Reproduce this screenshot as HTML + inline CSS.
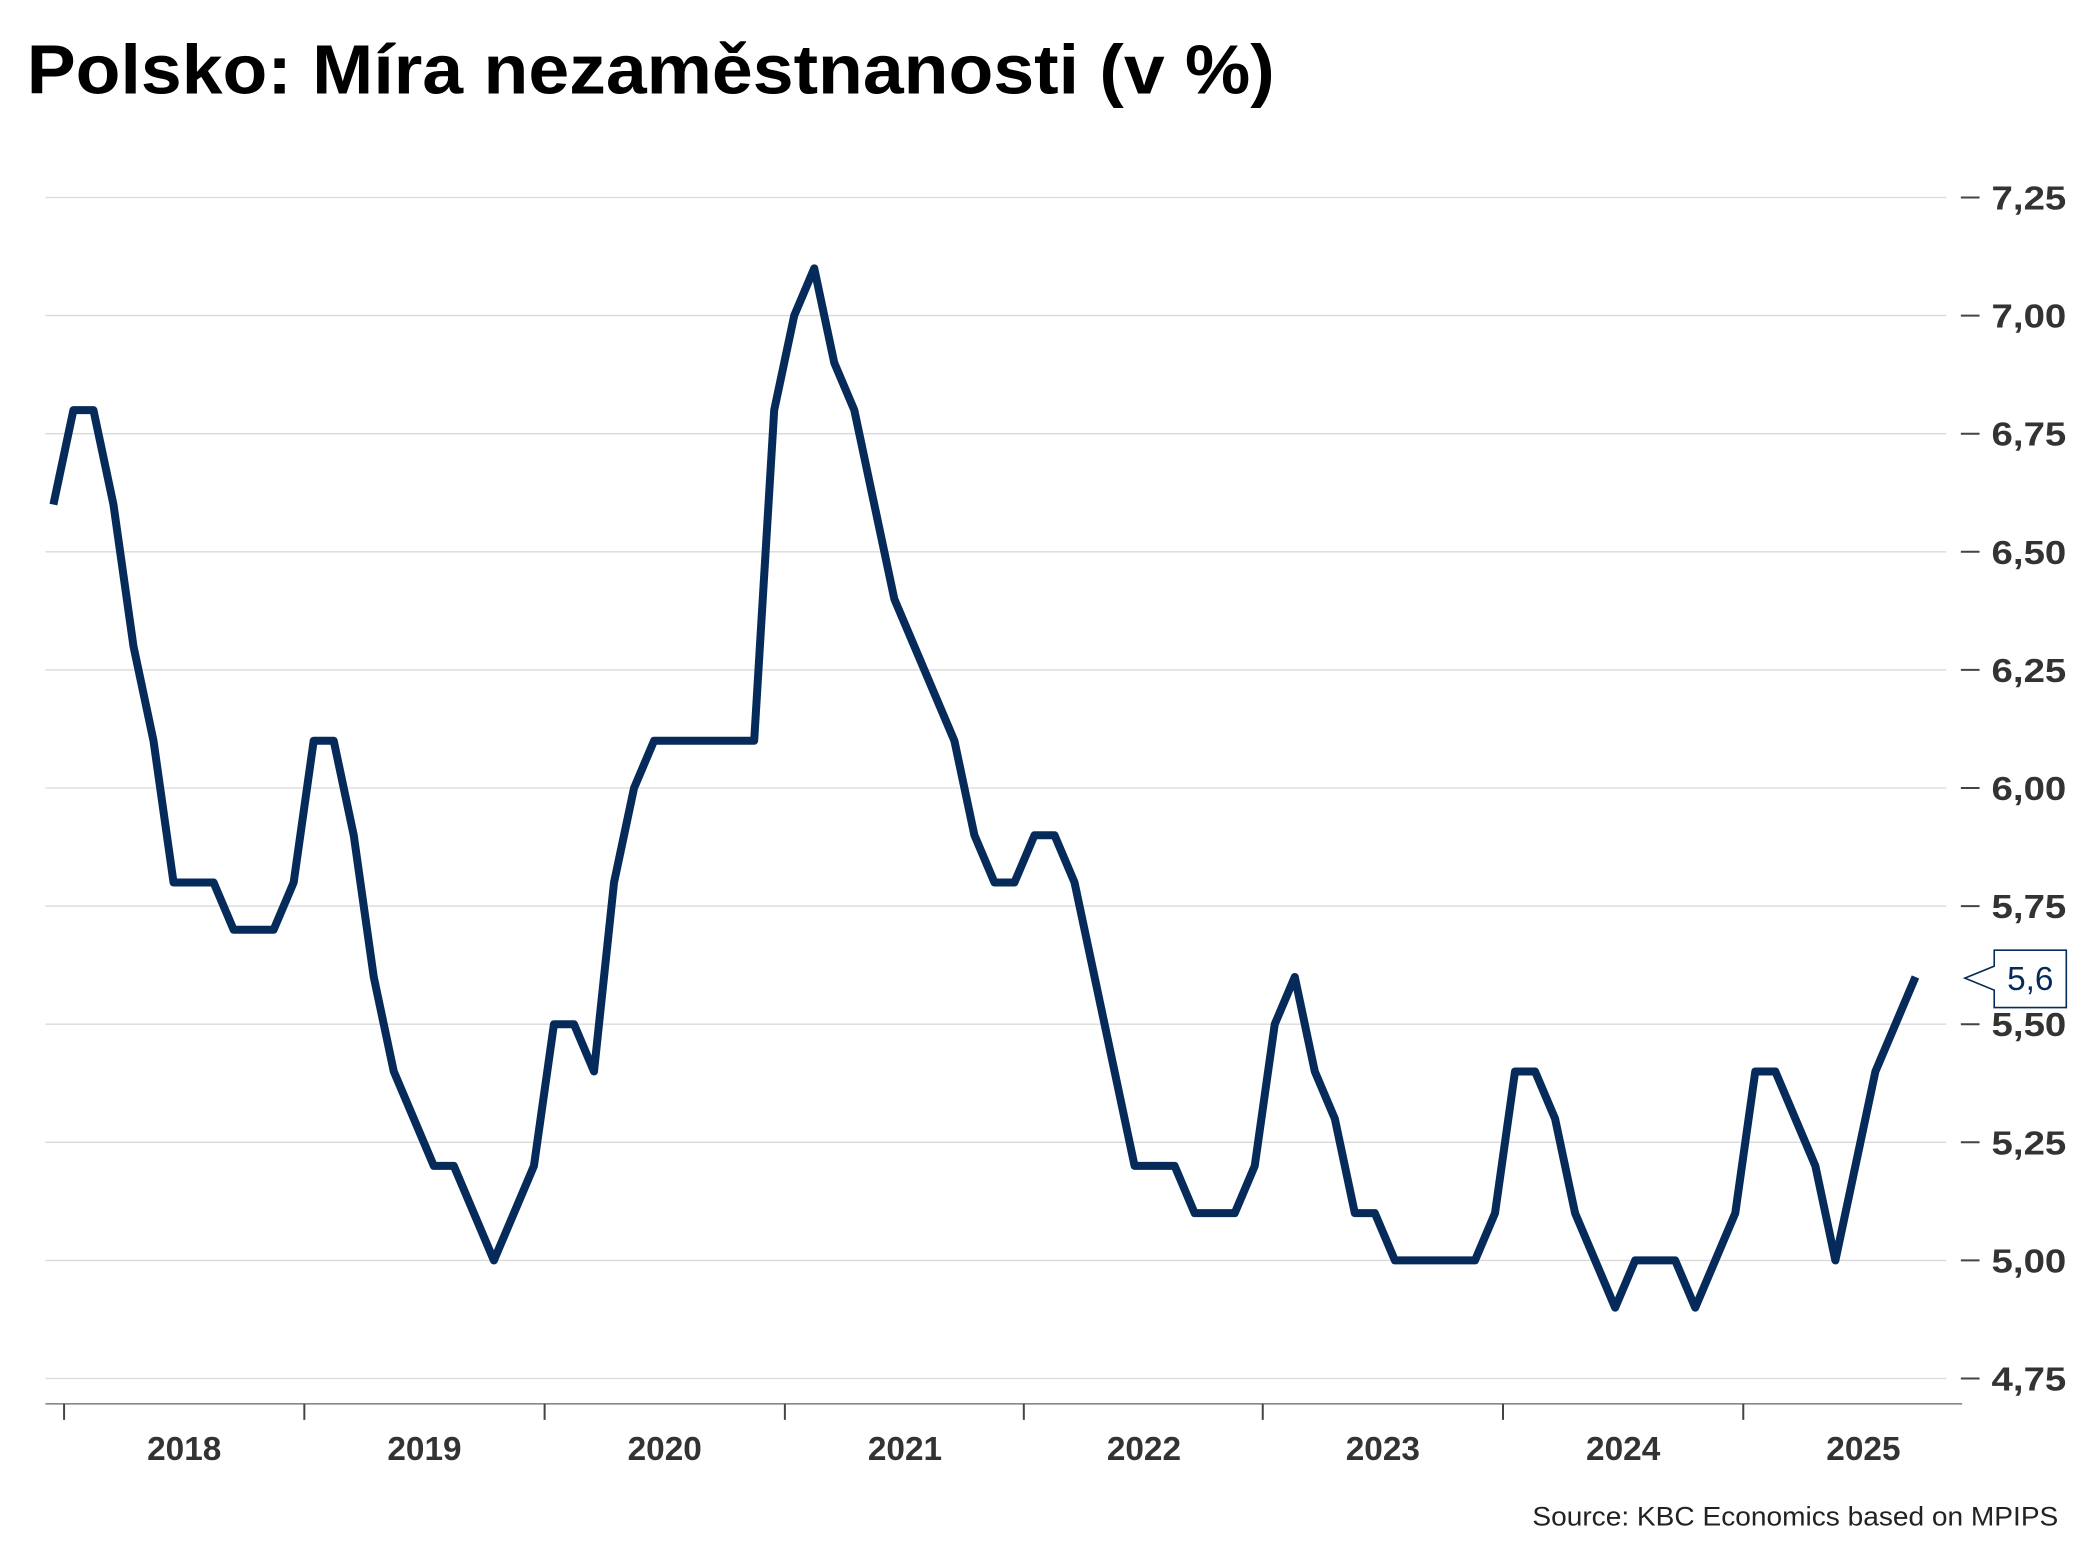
<!DOCTYPE html>
<html><head><meta charset="utf-8"><style>html,body{margin:0;padding:0;background:#fff}svg{display:block}</style></head>
<body>
<svg id="s" xmlns="http://www.w3.org/2000/svg" width="2093" height="1568" viewBox="0 0 1568 1175" preserveAspectRatio="none" font-family="Liberation Sans, DejaVu Sans, sans-serif">
<rect width="1568" height="1175" fill="#fff"/>
<text x="20" y="70" font-size="52" font-weight="bold" fill="#000" textLength="935" lengthAdjust="spacingAndGlyphs">Polsko: Míra nezaměstnanosti (v %)</text>
<g id="grid" stroke="#d9d9d9" stroke-width="1"></g>
<g id="ticks" stroke="#444" stroke-width="1.5"></g>
<g id="ylab" font-size="25" font-weight="bold" fill="#333"></g>
<line x1="34" y1="1052" x2="1470" y2="1052" stroke="#888" stroke-width="1.2"/>
<g id="xt" stroke="#444" stroke-width="1.5"></g>
<g id="xlab" font-size="25" font-weight="bold" fill="#333" text-anchor="middle"></g>
<polyline id="line" fill="none" stroke="#062b5b" stroke-width="6" stroke-linejoin="round"/>
<path d="M1494 712 H1548 V755 H1494 V742 L1472 733 L1494 724 Z" fill="#fff" stroke="#062b5b" stroke-width="1.2"/>
<text x="1521" y="742" font-size="25" fill="#062b5b" text-anchor="middle">5,6</text>
<text x="1542" y="1143" font-size="20" fill="#222" text-anchor="end" textLength="394" lengthAdjust="spacingAndGlyphs">Source: KBC Economics based on MPIPS</text>
</svg>
<script>
var NS="http://www.w3.org/2000/svg";
function el(p,t,a,txt){var e=document.createElementNS(NS,t);for(var k in a)e.setAttribute(k,a[k]);if(txt)e.textContent=txt;document.getElementById(p).appendChild(e);}
function Y(v){return 148+(7.25-v)*354;}
var labs=["7,25","7,00","6,75","6,50","6,25","6,00","5,75","5,50","5,25","5,00","4,75"];
for(var i=0;i<11;i++){var v=7.25-i*0.25,y=Y(v);
el("grid","line",{x1:34,x2:1458,y1:y,y2:y});
el("ticks","line",{x1:1469,x2:1483,y1:y,y2:y});
el("ylab","text",{x:1492,y:y+9,textLength:56,lengthAdjust:"spacingAndGlyphs"},labs[i]);}
var xs=[48,228,408,588,767,946,1126,1306];
for(var i=0;i<8;i++){el("xt","line",{x1:xs[i],x2:xs[i],y1:1052,y2:1064});
el("xlab","text",{x:xs[i]+90,y:1094},String(2018+i));}
var d=[6.6,6.8,6.8,6.6,6.3,6.1,5.8,5.8,5.8,5.7,5.7,5.7,5.8,6.1,6.1,5.9,5.6,5.4,5.3,5.2,5.2,5.1,5.0,5.1,5.2,5.5,5.5,5.4,5.8,6.0,6.1,6.1,6.1,6.1,6.1,6.1,6.8,7.0,7.1,6.9,6.8,6.6,6.4,6.3,6.2,6.1,5.9,5.8,5.8,5.9,5.9,5.8,5.6,5.4,5.2,5.2,5.2,5.1,5.1,5.1,5.2,5.5,5.6,5.4,5.3,5.1,5.1,5.0,5.0,5.0,5.0,5.0,5.1,5.4,5.4,5.3,5.1,5.0,4.9,5.0,5.0,5.0,4.9,5.0,5.1,5.4,5.4,5.3,5.2,5.0,5.2,5.4,5.5,5.6];
var pts=d.map(function(v,i){return (40+i*15)+","+Y(v).toFixed(1);}).join(" ");
document.getElementById("line").setAttribute("points",pts);
</script>
</body></html>
